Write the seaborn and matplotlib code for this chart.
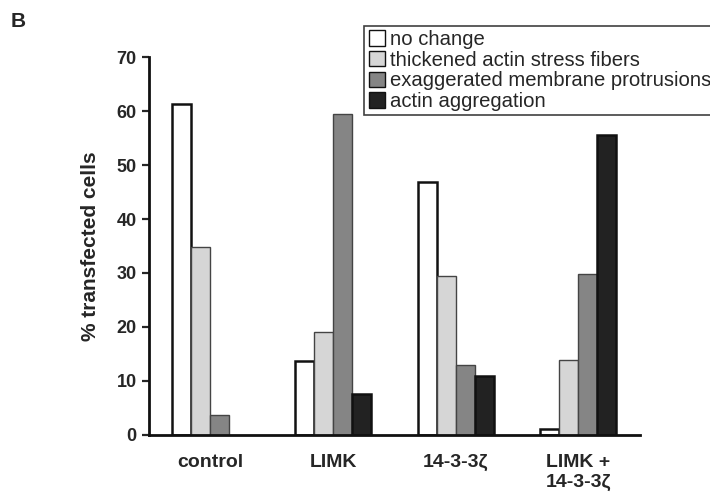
import matplotlib

matplotlib.use("Agg")

import matplotlib.pyplot as plt
import pandas as pd
import seaborn as sns
from matplotlib.patches import Patch

conditions = ["control", "LIMK", "14-3-3ζ", "LIMK +\n14-3-3ζ"]
phenotypes = [
    "no change",
    "thickened actin stress fibers",
    "exaggerated membrane protrusions",
    "actin aggregation",
]
no_change = [61.3, 13.6, 46.9, 1.0]
stress_fibers = [34.9, 19.1, 29.4, 13.9]
protrusions = [3.7, 59.5, 12.9, 29.9]
aggregation = [0.0, 7.6, 10.9, 55.6]

colors = ["#ffffff", "#d6d6d6", "#858585", "#222222"]
edges = ["#111111", "#444444", "#444444", "#111111"]

df = pd.DataFrame({
    "condition": conditions * 4,
    "phenotype": sum([[p] * 4 for p in phenotypes], []),
    "value": no_change + stress_fibers + protrusions + aggregation,
})

sns.set_style("white")
plt.rcParams["font.family"] = ["Liberation Sans", "DejaVu Sans"]

fig = plt.figure(figsize=(7.1, 4.93), dpi=100)
ax = fig.add_axes([0.21, 0.118, 0.691, 0.766])

sns.barplot(
    data=df, x="condition", y="value", hue="phenotype",
    order=conditions, hue_order=phenotypes, palette=colors,
    width=0.62, saturation=1, ax=ax, legend=False,
)
# per-series edge colours; zero-height bars are not drawn
for bars, ec in zip(ax.containers, edges):
    for b in bars:
        b.set_edgecolor(ec)
        b.set_linewidth(1.8 if ec == "#111111" else 1.0)
        if b.get_height() == 0:
            b.set_visible(False)

ax.set_xlim(-0.5, 3.5)
ax.set_ylim(0, 70)
ax.set_yticks(range(0, 71, 10))
ax.set_xlabel("")
ax.set_ylabel("% transfected cells", fontsize=15, fontweight="bold", labelpad=12)
sns.despine(ax=ax)
for s in ["left", "bottom"]:
    ax.spines[s].set_linewidth(2)
    ax.spines[s].set_color("#111111")
ax.tick_params(axis="y", direction="out", length=5, width=1.6, labelsize=13, pad=4, left=True)
ax.tick_params(axis="x", length=0, labelsize=14, pad=14)
for lab in ax.get_yticklabels() + ax.get_xticklabels():
    lab.set_fontweight("bold")
for lab in ax.get_xticklabels():
    lab.set_linespacing(1.2)

handles = [Patch(facecolor=c, edgecolor="#111111", linewidth=1.0) for c in colors]
leg = fig.legend(
    handles, phenotypes, loc="upper left", bbox_to_anchor=(0.513, 0.948),
    frameon=True, fancybox=False, edgecolor="#111111", fontsize=14.6,
    handlelength=0.8, handleheight=0.8, handletextpad=0.25, labelspacing=0.08,
    borderpad=0.22, borderaxespad=0,
)
leg.get_frame().set_linewidth(1.2)

fig.text(0.015, 0.945, "B", fontsize=15, fontweight="bold")

fig.savefig("out.png", dpi=100)
